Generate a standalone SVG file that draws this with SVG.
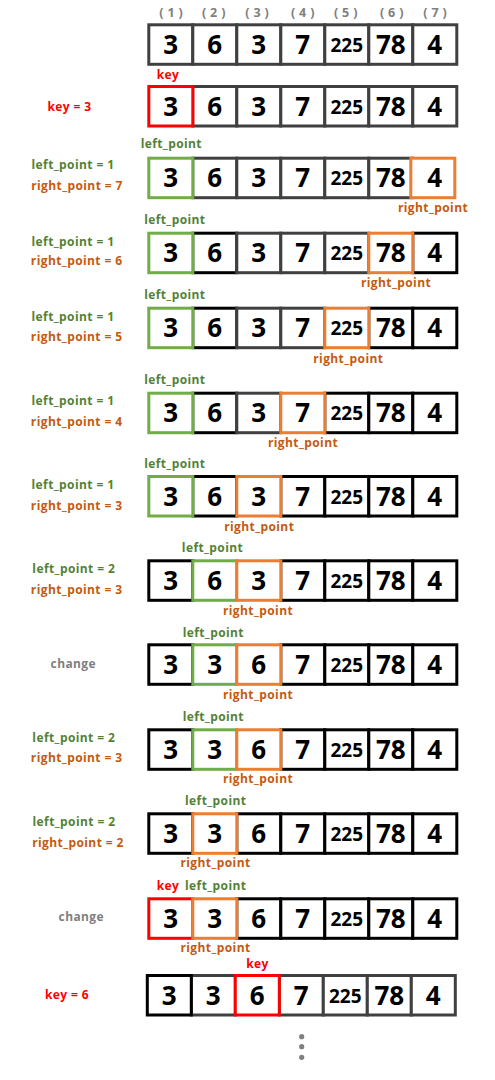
<svg xmlns="http://www.w3.org/2000/svg" width="495" height="1080" viewBox="0 0 495 1080">
<style>
.c{fill:#fff;stroke-width:3}
.g{stroke:#404040}.k{stroke:#000}.G{stroke:#70AD47}.O{stroke:#ED7D31}.R{stroke:#f00}
.d{font-family:'Open Sans','Liberation Sans',sans-serif;font-weight:700;font-size:26px;text-anchor:middle;fill:#000}
.s{font-size:19px}
.lb{font-family:'Open Sans','Liberation Sans',sans-serif;font-weight:700;font-size:12px;letter-spacing:.4px;text-anchor:middle}
.ix{font-family:'Open Sans','Liberation Sans',sans-serif;font-weight:700;font-size:12.5px;letter-spacing:4px;text-anchor:middle;fill:#808080}
.tg{fill:#548235}.to{fill:#C55A11}.tr{fill:#f00}.tx{fill:#7F7F7F}
</style>
<defs>
<g id="vA">
<text class="d" x="170.8" y="30.5">3</text><text class="d" x="214.8" y="30.5">6</text><text class="d" x="258.8" y="30.5">3</text><text class="d" x="302.8" y="30.5">7</text><text class="d s" x="346.8" y="28.5">225</text><text class="d" x="390.8" y="30.5">78</text><text class="d" x="434.8" y="30.5">4</text>
</g>
<g id="vB">
<text class="d" x="170.8" y="30.5">3</text><text class="d" x="214.8" y="30.5">3</text><text class="d" x="258.8" y="30.5">6</text><text class="d" x="302.8" y="30.5">7</text><text class="d s" x="346.8" y="28.5">225</text><text class="d" x="390.8" y="30.5">78</text><text class="d" x="434.8" y="30.5">4</text>
</g>
</defs>
<g id="connectors"/>
<g id="indices">
<text class="ix" x="173" y="17">(1)</text><text class="ix" x="215.7" y="17">(2)</text><text class="ix" x="259" y="17">(3)</text><text class="ix" x="304.7" y="17">(4)</text><text class="ix" x="347.7" y="17">(5)</text><text class="ix" x="393.7" y="17">(6)</text><text class="ix" x="437" y="17">(7)</text>
</g>
<g id="row1" transform="translate(0,23.3)">
<rect class="c g" x="148.8" y="1.5" width="44" height="39.5"/><rect class="c g" x="192.8" y="1.5" width="44" height="39.5"/><rect class="c g" x="236.8" y="1.5" width="44" height="39.5"/><rect class="c g" x="280.8" y="1.5" width="44" height="39.5"/><rect class="c g" x="324.8" y="1.5" width="44" height="39.5"/><rect class="c g" x="368.8" y="1.5" width="44" height="39.5"/><rect class="c g" x="412.8" y="1.5" width="44" height="39.5"/>
<use href="#vA"/>
</g>
<g id="row2" transform="translate(0,85)">
<rect class="c g" x="192.8" y="1.5" width="44" height="39.5"/><rect class="c g" x="236.8" y="1.5" width="44" height="39.5"/><rect class="c g" x="280.8" y="1.5" width="44" height="39.5"/><rect class="c g" x="324.8" y="1.5" width="44" height="39.5"/><rect class="c g" x="368.8" y="1.5" width="44" height="39.5"/><rect class="c g" x="412.8" y="1.5" width="44" height="39.5"/>
<rect class="c R" x="148.8" y="1.5" width="44" height="39.5"/>
<use href="#vA"/>
<text class="lb tr" x="168" y="-6">key</text>
<text class="lb tr" x="69.5" y="26">key = 3</text>
</g>
<g id="row3" transform="translate(0,156.7)">
<rect class="c g" x="192.8" y="1.5" width="44" height="39.5"/><rect class="c g" x="236.8" y="1.5" width="44" height="39.5"/><rect class="c g" x="280.8" y="1.5" width="44" height="39.5"/><rect class="c g" x="324.8" y="1.5" width="44" height="39.5"/><rect class="c g" x="368.8" y="1.5" width="44" height="39.5"/>
<rect class="c G" x="148.8" y="1.5" width="44" height="39.5"/><rect class="c O" x="410.8" y="1.5" width="44" height="39.5"/>
<use href="#vA"/>
<text class="lb tg" x="171.3" y="-8.5">left_point</text>
<text class="lb to" x="433" y="55">right_point</text>
<text class="lb tg" x="73" y="12.5">left_point = 1</text>
<text class="lb to" x="77" y="33.5">right_point = 7</text>
</g>
<g id="row4" transform="translate(0,231.7)">
<rect class="c k" x="192.8" y="1.5" width="44" height="39.5"/><rect class="c g" x="236.8" y="1.5" width="44" height="39.5"/><rect class="c g" x="280.8" y="1.5" width="44" height="39.5"/><rect class="c g" x="324.8" y="1.5" width="44" height="39.5"/><rect class="c k" x="412.8" y="1.5" width="44" height="39.5"/>
<rect class="c G" x="148.8" y="1.5" width="44" height="39.5"/><rect class="c O" x="368.8" y="1.5" width="44" height="39.5"/>
<use href="#vA"/>
<text class="lb tg" x="174.8" y="-7.7">left_point</text>
<text class="lb to" x="396" y="55.8">right_point</text>
<text class="lb tg" x="73" y="14">left_point = 1</text>
<text class="lb to" x="76.7" y="33.3">right_point = 6</text>
</g>
<g id="row5" transform="translate(0,306.7)">
<rect class="c k" x="192.8" y="1.5" width="44" height="39.5"/><rect class="c g" x="236.8" y="1.5" width="44" height="39.5"/><rect class="c g" x="280.8" y="1.5" width="44" height="39.5"/><rect class="c k" x="368.8" y="1.5" width="44" height="39.5"/><rect class="c k" x="412.8" y="1.5" width="44" height="39.5"/>
<rect class="c G" x="148.8" y="1.5" width="44" height="39.5"/><rect class="c O" x="324.8" y="1.5" width="44" height="39.5"/>
<use href="#vA"/>
<text class="lb tg" x="174.8" y="-7.7">left_point</text>
<text class="lb to" x="348.3" y="56.3">right_point</text>
<text class="lb tg" x="73" y="14">left_point = 1</text>
<text class="lb to" x="76.7" y="34">right_point = 5</text>
</g>
<g id="row6" transform="translate(0,391.7)">
<rect class="c k" x="192.8" y="1.5" width="44" height="39.5"/><rect class="c g" x="236.8" y="1.5" width="44" height="39.5"/><rect class="c k" x="324.8" y="1.5" width="44" height="39.5"/><rect class="c k" x="368.8" y="1.5" width="44" height="39.5"/><rect class="c k" x="412.8" y="1.5" width="44" height="39.5"/>
<rect class="c G" x="148.8" y="1.5" width="44" height="39.5"/><rect class="c O" x="280.8" y="1.5" width="44" height="39.5"/>
<use href="#vA"/>
<text class="lb tg" x="174.8" y="-7.7">left_point</text>
<text class="lb to" x="303" y="55">right_point</text>
<text class="lb tg" x="73" y="13.5">left_point = 1</text>
<text class="lb to" x="76.7" y="34">right_point = 4</text>
</g>
<g id="row7" transform="translate(0,475)">
<rect class="c k" x="192.8" y="1.5" width="44" height="39.5"/><rect class="c k" x="280.8" y="1.5" width="44" height="39.5"/><rect class="c k" x="324.8" y="1.5" width="44" height="39.5"/><rect class="c k" x="368.8" y="1.5" width="44" height="39.5"/><rect class="c k" x="412.8" y="1.5" width="44" height="39.5"/>
<rect class="c G" x="148.8" y="1.5" width="44" height="39.5"/><rect class="c O" x="236.8" y="1.5" width="44" height="39.5"/>
<use href="#vA"/>
<text class="lb tg" x="174.8" y="-7">left_point</text>
<text class="lb to" x="259.2" y="56">right_point</text>
<text class="lb tg" x="73" y="14">left_point = 1</text>
<text class="lb to" x="76.7" y="34.5">right_point = 3</text>
</g>
<g id="row8" transform="translate(0,559.3)">
<rect class="c k" x="148.8" y="1.5" width="44" height="39.5"/><rect class="c k" x="280.8" y="1.5" width="44" height="39.5"/><rect class="c k" x="324.8" y="1.5" width="44" height="39.5"/><rect class="c k" x="368.8" y="1.5" width="44" height="39.5"/><rect class="c k" x="412.8" y="1.5" width="44" height="39.5"/>
<rect class="c G" x="192.8" y="1.5" width="44" height="39.5"/><rect class="c O" x="236.8" y="1.5" width="44" height="39.5"/>
<use href="#vA"/>
<text class="lb tg" x="212.5" y="-7">left_point</text>
<text class="lb to" x="258" y="55.7">right_point</text>
<text class="lb tg" x="73.8" y="14">left_point = 2</text>
<text class="lb to" x="76.7" y="34.5">right_point = 3</text>
</g>
<g id="row9" transform="translate(0,643.3)">
<rect class="c k" x="148.8" y="1.5" width="44" height="39.5"/><rect class="c k" x="280.8" y="1.5" width="44" height="39.5"/><rect class="c k" x="324.8" y="1.5" width="44" height="39.5"/><rect class="c k" x="368.8" y="1.5" width="44" height="39.5"/><rect class="c k" x="412.8" y="1.5" width="44" height="39.5"/>
<rect class="c G" x="192.8" y="1.5" width="44" height="39.5"/><rect class="c O" x="236.8" y="1.5" width="44" height="39.5"/>
<use href="#vB"/>
<text class="lb tg" x="213.3" y="-6.8">left_point</text>
<text class="lb to" x="258" y="56">right_point</text>
<text class="lb tx" x="73.3" y="25">change</text>
</g>
<g id="row10" transform="translate(0,728.3)">
<rect class="c k" x="148.8" y="1.5" width="44" height="39.5"/><rect class="c k" x="280.8" y="1.5" width="44" height="39.5"/><rect class="c k" x="324.8" y="1.5" width="44" height="39.5"/><rect class="c k" x="368.8" y="1.5" width="44" height="39.5"/><rect class="c k" x="412.8" y="1.5" width="44" height="39.5"/>
<rect class="c G" x="192.8" y="1.5" width="44" height="39.5"/><rect class="c O" x="236.8" y="1.5" width="44" height="39.5"/>
<use href="#vB"/>
<text class="lb tg" x="213.3" y="-7.6">left_point</text>
<text class="lb to" x="258" y="55">right_point</text>
<text class="lb tg" x="73.8" y="14">left_point = 2</text>
<text class="lb to" x="76.7" y="33.4">right_point = 3</text>
</g>
<g id="row11" transform="translate(0,812.3)">
<rect class="c k" x="148.8" y="1.5" width="44" height="39.5"/><rect class="c k" x="236.8" y="1.5" width="44" height="39.5"/><rect class="c k" x="280.8" y="1.5" width="44" height="39.5"/><rect class="c k" x="324.8" y="1.5" width="44" height="39.5"/><rect class="c k" x="368.8" y="1.5" width="44" height="39.5"/><rect class="c k" x="412.8" y="1.5" width="44" height="39.5"/>
<rect class="c O" x="192.8" y="1.5" width="44" height="39.5"/>
<use href="#vB"/>
<text class="lb tg" x="215.7" y="-7.3">left_point</text>
<text class="lb to" x="215.5" y="55">right_point</text>
<text class="lb tg" x="74" y="14">left_point = 2</text>
<text class="lb to" x="78" y="34.4">right_point = 2</text>
</g>
<g id="row12" transform="translate(0,897.3)">
<rect class="c k" x="236.8" y="1.5" width="44" height="39.5"/><rect class="c k" x="280.8" y="1.5" width="44" height="39.5"/><rect class="c k" x="324.8" y="1.5" width="44" height="39.5"/><rect class="c k" x="368.8" y="1.5" width="44" height="39.5"/><rect class="c k" x="412.8" y="1.5" width="44" height="39.5"/>
<rect class="c R" x="148.8" y="1.5" width="44" height="39.5"/><rect class="c O" x="192.8" y="1.5" width="44" height="39.5"/>
<use href="#vB"/>
<text class="lb tr" x="168" y="-7.3">key</text>
<text class="lb tg" x="215.7" y="-7.3">left_point</text>
<text class="lb to" x="215.5" y="55">right_point</text>
<text class="lb tx" x="81.3" y="24">change</text>
</g>
<g id="row13" transform="translate(-1.5,974)">
<rect class="c g" x="192.8" y="1.5" width="44" height="39.5"/><rect class="c g" x="280.8" y="1.5" width="44" height="39.5"/><rect class="c g" x="324.8" y="1.5" width="44" height="39.5"/><rect class="c g" x="368.8" y="1.5" width="44" height="39.5"/><rect class="c g" x="412.8" y="1.5" width="44" height="39.5"/>
<rect class="c k" x="148.8" y="1.5" width="44" height="39.5"/><rect class="c R" x="236.8" y="1.5" width="44" height="39.5"/>
<use href="#vB"/>
<text class="lb tr" x="259" y="-6">key</text>
<text class="lb tr" x="68.5" y="25">key = 6</text>
</g>
<g id="ellipsis" fill="#808080">
<circle cx="301.7" cy="1036.7" r="2.6"/><circle cx="301.7" cy="1046.7" r="2.6"/><circle cx="301.7" cy="1057.3" r="2.6"/>
</g>
</svg>
